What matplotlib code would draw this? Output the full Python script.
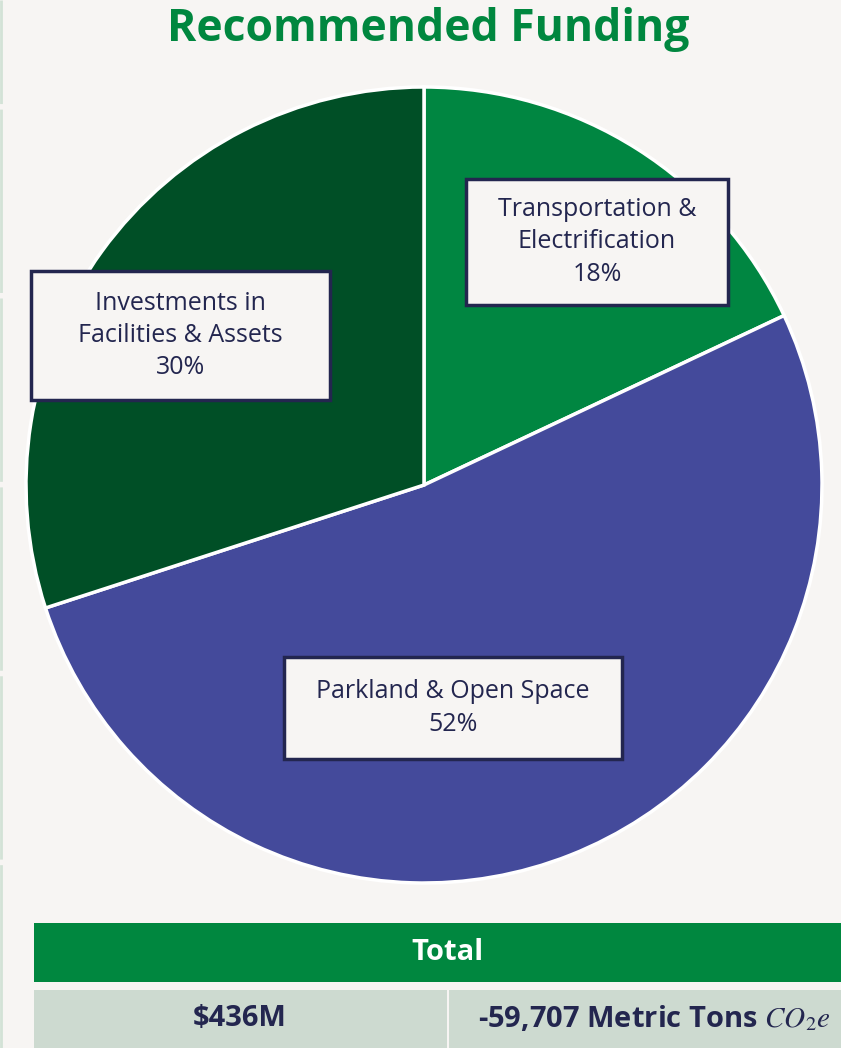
import numpy as np
import matplotlib
matplotlib.use("Agg")
import matplotlib.pyplot as plt
from matplotlib.patches import Rectangle

# data
labels = ["Transportation &\nElectrification", "Parkland & Open Space", "Investments in\nFacilities & Assets"]
shares = [18, 52, 30]
colors = ["#008641", "#444A9B", "#004F26"]
title = "Recommended Funding"
table_header = "Total"
table_cells = ["$436M", r"-59,707 Metric Tons $CO_2e$"]

W, H = 841, 1048
bg = "#F7F5F3"
navy = "#23264F"
green = "#00873F"

plt.rcParams["font.family"] = ["Open Sans", "DejaVu Sans"]
plt.rcParams["mathtext.fontset"] = "stix"

fig = plt.figure(figsize=(W / 100, H / 100), dpi=100, facecolor=bg)
ax = fig.add_axes([0, 0, 1, 1])

def Y(y):
    # image pixel row -> data y
    return H - y

# faint line at the left edge
ax.plot([1, 1], [0, H], color="#D3E2D6", lw=2, dashes=(66, 2))

ax.text(428, Y(29), title, ha="center", va="center", fontsize=32,
        fontweight="bold", color=green)

ax.pie(shares, colors=colors, startangle=90, counterclock=False,
       center=(424, Y(485)), radius=398,
       wedgeprops=dict(edgecolor="white", linewidth=2.5), frame=True)
ax.set_xlim(0, W)
ax.set_ylim(0, H)
ax.set_aspect("equal")
ax.axis("off")

# label boxes (x0, y0, x1, y1 in image pixels)
boxes = [(466, 179, 728, 305), (284, 657, 622, 759), (31, 271, 330, 400)]
for lab, pct, (x0, y0, x1, y1) in zip(labels, shares, boxes):
    ax.add_patch(Rectangle((x0, Y(y1)), x1 - x0, y1 - y0, facecolor=bg,
                           edgecolor=navy, lw=2.5, zorder=5))
    ax.text((x0 + x1) / 2, Y((y0 + y1) / 2), f"{lab}\n{pct}%", ha="center",
            va="center", fontsize=18, color=navy, linespacing=1.38, zorder=6)

# table
ax.add_patch(Rectangle((34, Y(982)), 830, 59, facecolor=green, edgecolor="none"))
ax.text(447, Y(953), table_header, ha="center", va="center", fontsize=21,
        fontweight="bold", color="white")
ax.add_patch(Rectangle((34, Y(1060)), 413, 70, facecolor="#CDDAD0", edgecolor="none"))
ax.add_patch(Rectangle((449, Y(1060)), 415, 70, facecolor="#CDDAD0", edgecolor="none"))
ax.text(240, Y(1019), table_cells[0], ha="center", va="center", fontsize=21,
        fontweight="bold", color=navy)
ax.text(654, Y(1019), table_cells[1], ha="center", va="center", fontsize=21,
        fontweight="bold", color=navy)

fig.savefig("out.png", dpi=100, facecolor=bg)
